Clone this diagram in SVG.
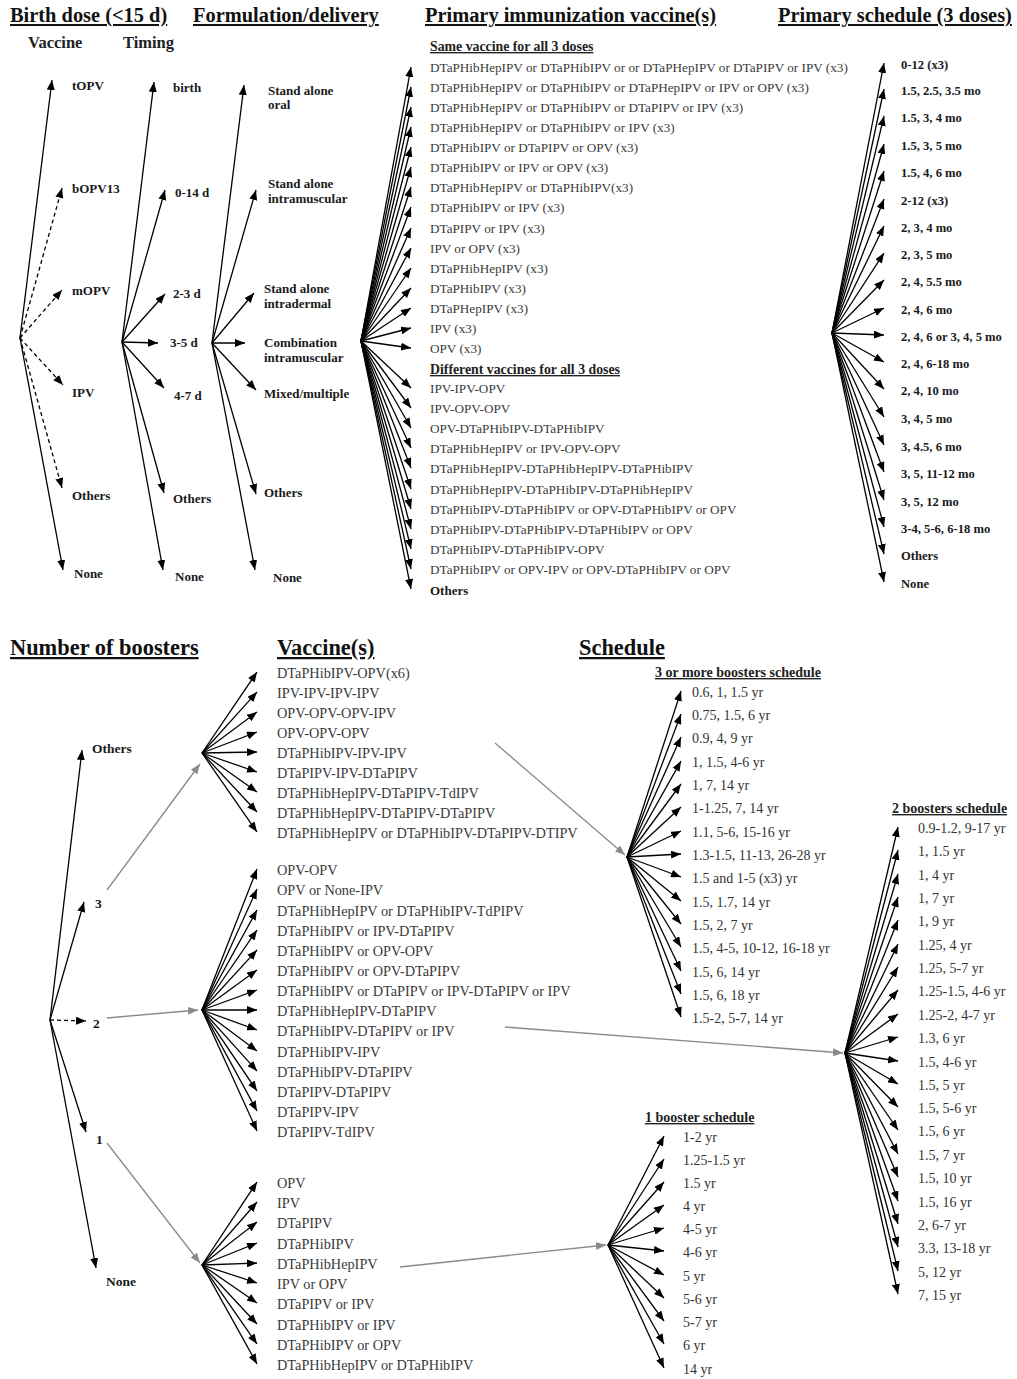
<svg xmlns="http://www.w3.org/2000/svg" width="1017" height="1379" viewBox="0 0 1017 1379">
<defs>
<marker id="ah" viewBox="0 0 10 8" refX="10" refY="4" markerWidth="10" markerHeight="8" markerUnits="userSpaceOnUse" orient="auto"><path d="M0,0 L10,4 L0,8 z" fill="#000"/></marker>
<marker id="ag" viewBox="0 0 10 8" refX="10" refY="4" markerWidth="10" markerHeight="8" markerUnits="userSpaceOnUse" orient="auto"><path d="M0,0 L10,4 L0,8 z" fill="#8a8a8a"/></marker>
<style>
text{font-family:"Liberation Serif","Times New Roman",serif}
.h{font-weight:bold;font-size:20.4px;text-decoration:underline;fill:#111}
.h2{font-weight:bold;font-size:22.4px;text-decoration:underline;fill:#111}
.sh{font-weight:bold;font-size:16.5px;fill:#222}
.lb{font-weight:bold;font-size:13px;fill:#1a1a1a}
.lp{font-weight:bold;font-size:12.6px;fill:#1a1a1a}
.lbb{font-weight:bold;font-size:13.5px;fill:#1a1a1a}
.sub{font-weight:bold;font-size:13.8px;text-decoration:underline;fill:#222}
.sub2{font-weight:bold;font-size:14px;text-decoration:underline;fill:#222}
.t{font-size:13.2px;fill:#3a3a3a}
.tb{font-size:14.3px;fill:#3a3a3a}
.s{font-size:14px;fill:#333}
.c{stroke:#000;stroke-width:1.3;fill:none;marker-end:url(#ah)}
.d{stroke-dasharray:4 3}
.g{stroke:#8a8a8a;stroke-width:1.3;fill:none;marker-end:url(#ag)}
</style>
</defs>
<rect width="1017" height="1379" fill="#fff"/>

<g id="headers">
<text class="h" x="10" y="22">Birth dose (&lt;15 d)</text>
<text class="h" x="193" y="22">Formulation/delivery</text>
<text class="h" x="425" y="22">Primary immunization vaccine(s)</text>
<text class="h" x="778" y="22">Primary schedule (3 doses)</text>
<text class="sh" x="28" y="48">Vaccine</text>
<text class="sh" x="123" y="48">Timing</text>
<text class="h2" x="10" y="655">Number of boosters</text>
<text class="h2" x="277" y="655">Vaccine(s)</text>
<text class="h2" x="579" y="655">Schedule</text>
</g>

<g id="connectors">
<!-- birth dose vaccine -->
<path class="c" d="M20,338 L52,80"/>
<path class="c d" d="M20,338 L62,188"/>
<path class="c d" d="M20,338 L62,290"/>
<path class="c d" d="M20,338 L63,385"/>
<path class="c d" d="M20,338 L62,488"/>
<path class="c" d="M20,338 L63,570"/>
<!-- timing -->
<path class="c" d="M122,342 L154,82"/>
<path class="c" d="M122,342 L165,190"/>
<path class="c" d="M122,342 L165,294"/>
<path class="c" d="M122,342 L158,343"/>
<path class="c" d="M122,342 L164,388"/>
<path class="c" d="M122,342 L164,493"/>
<path class="c" d="M122,342 L163,570"/>
<!-- formulation -->
<path class="c" d="M212,343 L244,85"/>
<path class="c" d="M212,343 L256,190"/>
<path class="c" d="M212,343 L254,293"/>
<path class="c" d="M212,343 L245,343"/>
<path class="c" d="M212,343 L256,390"/>
<path class="c" d="M212,343 L256,494"/>
<path class="c" d="M212,343 L255,570"/>
<!-- primary vaccines -->
<path class="c" d="M361,341 L411,67"/>
<path class="c" d="M361,341 L411,87"/>
<path class="c" d="M361,341 L411,107"/>
<path class="c" d="M361,341 L411,127"/>
<path class="c" d="M361,341 L411,147"/>
<path class="c" d="M361,341 L411,167"/>
<path class="c" d="M361,341 L411,187"/>
<path class="c" d="M361,341 L411,207"/>
<path class="c" d="M361,341 L411,228"/>
<path class="c" d="M361,341 L411,248"/>
<path class="c" d="M361,341 L411,268"/>
<path class="c" d="M361,341 L411,288"/>
<path class="c" d="M361,341 L411,308"/>
<path class="c" d="M361,341 L411,328"/>
<path class="c" d="M361,341 L411,348"/>
<path class="c" d="M361,341 L411,388"/>
<path class="c" d="M361,341 L411,408"/>
<path class="c" d="M361,341 L411,428"/>
<path class="c" d="M361,341 L411,448"/>
<path class="c" d="M361,341 L411,468"/>
<path class="c" d="M361,341 L411,489"/>
<path class="c" d="M361,341 L411,509"/>
<path class="c" d="M361,341 L411,529"/>
<path class="c" d="M361,341 L411,549"/>
<path class="c" d="M361,341 L411,569"/>
<path class="c" d="M361,341 L411,589"/>
<!-- primary schedule -->
<path class="c" d="M832,333 L884,63"/>
<path class="c" d="M832,333 L884,89"/>
<path class="c" d="M832,333 L884,116"/>
<path class="c" d="M832,333 L884,144"/>
<path class="c" d="M832,333 L884,171"/>
<path class="c" d="M832,333 L884,199"/>
<path class="c" d="M832,333 L884,226"/>
<path class="c" d="M832,333 L884,253"/>
<path class="c" d="M832,333 L884,280"/>
<path class="c" d="M832,333 L884,308"/>
<path class="c" d="M832,333 L884,335"/>
<path class="c" d="M832,333 L884,362"/>
<path class="c" d="M832,333 L884,389"/>
<path class="c" d="M832,333 L884,417"/>
<path class="c" d="M832,333 L884,445"/>
<path class="c" d="M832,333 L884,472"/>
<path class="c" d="M832,333 L884,500"/>
<path class="c" d="M832,333 L884,527"/>
<path class="c" d="M832,333 L884,554"/>
<path class="c" d="M832,333 L884,582"/>
<!-- number of boosters -->
<path class="c" d="M50,1020 L82,750"/>
<path class="c" d="M50,1020 L84,902"/>
<path class="c d" d="M50,1020 L86,1021"/>
<path class="c" d="M50,1020 L86,1132"/>
<path class="c" d="M50,1020 L96,1268"/>
<!-- grey links -->
<path class="g" d="M107,890 L200,764"/>
<path class="g" d="M107,1018 L198,1010"/>
<path class="g" d="M107,1143 L200,1263"/>
<path class="g" d="M495,743 L625,855"/>
<path class="g" d="M505,1027 L843,1053"/>
<path class="g" d="M400,1267 L606,1245"/>
<!-- fan 3 boosters vaccines -->
<path class="c" d="M202,753 L257,672"/>
<path class="c" d="M202,753 L257,692"/>
<path class="c" d="M202,753 L257,712"/>
<path class="c" d="M202,753 L257,732"/>
<path class="c" d="M202,753 L257,752"/>
<path class="c" d="M202,753 L257,772"/>
<path class="c" d="M202,753 L257,792"/>
<path class="c" d="M202,753 L257,812"/>
<path class="c" d="M202,753 L257,832"/>
<!-- fan 2 boosters vaccines -->
<path class="c" d="M202,1010 L257,869"/>
<path class="c" d="M202,1010 L257,889"/>
<path class="c" d="M202,1010 L257,910"/>
<path class="c" d="M202,1010 L257,930"/>
<path class="c" d="M202,1010 L257,950"/>
<path class="c" d="M202,1010 L257,970"/>
<path class="c" d="M202,1010 L257,990"/>
<path class="c" d="M202,1010 L257,1010"/>
<path class="c" d="M202,1010 L257,1030"/>
<path class="c" d="M202,1010 L257,1051"/>
<path class="c" d="M202,1010 L257,1071"/>
<path class="c" d="M202,1010 L257,1091"/>
<path class="c" d="M202,1010 L257,1111"/>
<path class="c" d="M202,1010 L257,1131"/>
<!-- fan 1 booster vaccines -->
<path class="c" d="M202,1265 L257,1182"/>
<path class="c" d="M202,1265 L257,1202"/>
<path class="c" d="M202,1265 L257,1222"/>
<path class="c" d="M202,1265 L257,1243"/>
<path class="c" d="M202,1265 L257,1263"/>
<path class="c" d="M202,1265 L257,1283"/>
<path class="c" d="M202,1265 L257,1303"/>
<path class="c" d="M202,1265 L257,1324"/>
<path class="c" d="M202,1265 L257,1344"/>
<path class="c" d="M202,1265 L257,1364"/>
<!-- 3+ schedule -->
<path class="c" d="M627,857 L681,691"/>
<path class="c" d="M627,857 L681,714"/>
<path class="c" d="M627,857 L681,737"/>
<path class="c" d="M627,857 L681,761"/>
<path class="c" d="M627,857 L681,784"/>
<path class="c" d="M627,857 L681,807"/>
<path class="c" d="M627,857 L681,831"/>
<path class="c" d="M627,857 L681,854"/>
<path class="c" d="M627,857 L681,877"/>
<path class="c" d="M627,857 L681,901"/>
<path class="c" d="M627,857 L681,924"/>
<path class="c" d="M627,857 L681,947"/>
<path class="c" d="M627,857 L681,971"/>
<path class="c" d="M627,857 L681,994"/>
<path class="c" d="M627,857 L681,1017"/>
<!-- 2 boosters schedule -->
<path class="c" d="M845,1053 L898,827"/>
<path class="c" d="M845,1053 L898,850"/>
<path class="c" d="M845,1053 L898,874"/>
<path class="c" d="M845,1053 L898,897"/>
<path class="c" d="M845,1053 L898,920"/>
<path class="c" d="M845,1053 L898,944"/>
<path class="c" d="M845,1053 L898,967"/>
<path class="c" d="M845,1053 L898,990"/>
<path class="c" d="M845,1053 L898,1014"/>
<path class="c" d="M845,1053 L898,1037"/>
<path class="c" d="M845,1053 L898,1061"/>
<path class="c" d="M845,1053 L898,1084"/>
<path class="c" d="M845,1053 L898,1107"/>
<path class="c" d="M845,1053 L898,1130"/>
<path class="c" d="M845,1053 L898,1154"/>
<path class="c" d="M845,1053 L898,1177"/>
<path class="c" d="M845,1053 L898,1201"/>
<path class="c" d="M845,1053 L898,1224"/>
<path class="c" d="M845,1053 L898,1247"/>
<path class="c" d="M845,1053 L898,1271"/>
<path class="c" d="M845,1053 L898,1294"/>
<!-- 1 booster schedule -->
<path class="c" d="M608,1245 L664,1136"/>
<path class="c" d="M608,1245 L664,1159"/>
<path class="c" d="M608,1245 L664,1182"/>
<path class="c" d="M608,1245 L664,1205"/>
<path class="c" d="M608,1245 L664,1228"/>
<path class="c" d="M608,1245 L664,1251"/>
<path class="c" d="M608,1245 L664,1275"/>
<path class="c" d="M608,1245 L664,1298"/>
<path class="c" d="M608,1245 L664,1321"/>
<path class="c" d="M608,1245 L664,1344"/>
<path class="c" d="M608,1245 L664,1368"/>
</g>

<!-- Birth dose vaccine nodes -->
<g id="bd-topv"><text class="lb" x="72" y="90">tOPV</text></g>
<g id="bd-bopv13"><text class="lb" x="72" y="193">bOPV13</text></g>
<g id="bd-mopv"><text class="lb" x="72" y="295">mOPV</text></g>
<g id="bd-ipv"><text class="lb" x="72" y="397">IPV</text></g>
<g id="bd-others"><text class="lb" x="72" y="500">Others</text></g>
<g id="bd-none"><text class="lb" x="74" y="578">None</text></g>
<!-- Timing nodes -->
<g id="tm-birth"><text class="lb" x="173" y="92">birth</text></g>
<g id="tm-0-14"><text class="lb" x="175" y="197">0-14 d</text></g>
<g id="tm-2-3"><text class="lb" x="173" y="298">2-3 d</text></g>
<g id="tm-3-5"><text class="lb" x="170" y="347">3-5 d</text></g>
<g id="tm-4-7"><text class="lb" x="174" y="400">4-7 d</text></g>
<g id="tm-others"><text class="lb" x="173" y="503">Others</text></g>
<g id="tm-none"><text class="lb" x="175" y="581">None</text></g>
<!-- Formulation nodes -->
<g id="fd-oral"><text class="lb" x="268" y="95">Stand alone</text><text class="lb" x="268" y="109">oral</text></g>
<g id="fd-im"><text class="lb" x="268" y="188">Stand alone</text><text class="lb" x="268" y="203">intramuscular</text></g>
<g id="fd-id"><text class="lb" x="264" y="293">Stand alone</text><text class="lb" x="264" y="308">intradermal</text></g>
<g id="fd-comb"><text class="lb" x="264" y="347">Combination</text><text class="lb" x="264" y="362">intramuscular</text></g>
<g id="fd-mixed"><text class="lb" x="264" y="398">Mixed/multiple</text></g>
<g id="fd-others"><text class="lb" x="264" y="497">Others</text></g>
<g id="fd-none"><text class="lb" x="273" y="582">None</text></g>

<!-- Primary vaccine nodes -->
<g id="pv-sub1"><text class="sub" x="430" y="51">Same vaccine for all 3 doses</text></g>
<g id="pv-01"><text class="t" x="430" y="72">DTaPHibHepIPV or DTaPHibIPV or or DTaPHepIPV or DTaPIPV or IPV (x3)</text></g>
<g id="pv-02"><text class="t" x="430" y="92">DTaPHibHepIPV or DTaPHibIPV or DTaPHepIPV or IPV or OPV (x3)</text></g>
<g id="pv-03"><text class="t" x="430" y="112">DTaPHibHepIPV or DTaPHibIPV or DTaPIPV or IPV (x3)</text></g>
<g id="pv-04"><text class="t" x="430" y="132">DTaPHibHepIPV or DTaPHibIPV or IPV (x3)</text></g>
<g id="pv-05"><text class="t" x="430" y="152">DTaPHibIPV or DTaPIPV or OPV (x3)</text></g>
<g id="pv-06"><text class="t" x="430" y="172">DTaPHibIPV or IPV or OPV (x3)</text></g>
<g id="pv-07"><text class="t" x="430" y="192">DTaPHibHepIPV or DTaPHibIPV(x3)</text></g>
<g id="pv-08"><text class="t" x="430" y="212">DTaPHibIPV or IPV (x3)</text></g>
<g id="pv-09"><text class="t" x="430" y="233">DTaPIPV or IPV (x3)</text></g>
<g id="pv-10"><text class="t" x="430" y="253">IPV or OPV (x3)</text></g>
<g id="pv-11"><text class="t" x="430" y="273">DTaPHibHepIPV (x3)</text></g>
<g id="pv-12"><text class="t" x="430" y="293">DTaPHibIPV (x3)</text></g>
<g id="pv-13"><text class="t" x="430" y="313">DTaPHepIPV (x3)</text></g>
<g id="pv-14"><text class="t" x="430" y="333">IPV (x3)</text></g>
<g id="pv-15"><text class="t" x="430" y="353">OPV (x3)</text></g>
<g id="pv-sub2"><text class="sub" x="430" y="374">Different vaccines for all 3 doses</text></g>
<g id="pv-16"><text class="t" x="430" y="393">IPV-IPV-OPV</text></g>
<g id="pv-17"><text class="t" x="430" y="413">IPV-OPV-OPV</text></g>
<g id="pv-18"><text class="t" x="430" y="433">OPV-DTaPHibIPV-DTaPHibIPV</text></g>
<g id="pv-19"><text class="t" x="430" y="453">DTaPHibHepIPV or IPV-OPV-OPV</text></g>
<g id="pv-20"><text class="t" x="430" y="473">DTaPHibHepIPV-DTaPHibHepIPV-DTaPHibIPV</text></g>
<g id="pv-21"><text class="t" x="430" y="494">DTaPHibHepIPV-DTaPHibIPV-DTaPHibHepIPV</text></g>
<g id="pv-22"><text class="t" x="430" y="514">DTaPHibIPV-DTaPHibIPV or OPV-DTaPHibIPV or OPV</text></g>
<g id="pv-23"><text class="t" x="430" y="534">DTaPHibIPV-DTaPHibIPV-DTaPHibIPV or OPV</text></g>
<g id="pv-24"><text class="t" x="430" y="554">DTaPHibIPV-DTaPHibIPV-OPV</text></g>
<g id="pv-25"><text class="t" x="430" y="574">DTaPHibIPV or OPV-IPV or OPV-DTaPHibIPV or OPV</text></g>
<g id="pv-others"><text class="lb" x="430" y="595">Others</text></g>

<!-- Primary schedule nodes -->
<g id="ps-01"><text class="lp" x="901" y="69">0-12 (x3)</text></g>
<g id="ps-02"><text class="lp" x="901" y="95">1.5,  2.5,  3.5 mo</text></g>
<g id="ps-03"><text class="lp" x="901" y="122">1.5,  3,  4 mo</text></g>
<g id="ps-04"><text class="lp" x="901" y="150">1.5,  3,  5 mo</text></g>
<g id="ps-05"><text class="lp" x="901" y="177">1.5,  4,  6 mo</text></g>
<g id="ps-06"><text class="lp" x="901" y="205">2-12 (x3)</text></g>
<g id="ps-07"><text class="lp" x="901" y="232">2,  3,  4 mo</text></g>
<g id="ps-08"><text class="lp" x="901" y="259">2,  3,  5 mo</text></g>
<g id="ps-09"><text class="lp" x="901" y="286">2, 4, 5.5 mo</text></g>
<g id="ps-10"><text class="lp" x="901" y="314">2,  4,  6 mo</text></g>
<g id="ps-11"><text class="lp" x="901" y="341">2, 4, 6 or 3, 4, 5 mo</text></g>
<g id="ps-12"><text class="lp" x="901" y="368">2,  4,  6-18 mo</text></g>
<g id="ps-13"><text class="lp" x="901" y="395">2,  4,  10 mo</text></g>
<g id="ps-14"><text class="lp" x="901" y="423">3,  4,  5 mo</text></g>
<g id="ps-15"><text class="lp" x="901" y="451">3,  4.5,  6 mo</text></g>
<g id="ps-16"><text class="lp" x="901" y="478">3,  5,  11-12 mo</text></g>
<g id="ps-17"><text class="lp" x="901" y="506">3,  5,  12 mo</text></g>
<g id="ps-18"><text class="lp" x="901" y="533">3-4,  5-6,  6-18 mo</text></g>
<g id="ps-others"><text class="lp" x="901" y="560">Others</text></g>
<g id="ps-none"><text class="lp" x="901" y="588">None</text></g>

<!-- Number of boosters nodes -->
<g id="nb-others"><text class="lbb" x="92" y="753">Others</text></g>
<g id="nb-3"><text class="lbb" x="95" y="908">3</text></g>
<g id="nb-2"><text class="lbb" x="93" y="1028">2</text></g>
<g id="nb-1"><text class="lbb" x="96" y="1144">1</text></g>
<g id="nb-none"><text class="lbb" x="106" y="1286">None</text></g>

<!-- 3 booster vaccines -->
<g id="v3-1"><text class="tb" x="277" y="678">DTaPHibIPV-OPV(x6)</text></g>
<g id="v3-2"><text class="tb" x="277" y="698">IPV-IPV-IPV-IPV</text></g>
<g id="v3-3"><text class="tb" x="277" y="718">OPV-OPV-OPV-IPV</text></g>
<g id="v3-4"><text class="tb" x="277" y="738">OPV-OPV-OPV</text></g>
<g id="v3-5"><text class="tb" x="277" y="758">DTaPHibIPV-IPV-IPV</text></g>
<g id="v3-6"><text class="tb" x="277" y="778">DTaPIPV-IPV-DTaPIPV</text></g>
<g id="v3-7"><text class="tb" x="277" y="798">DTaPHibHepIPV-DTaPIPV-TdIPV</text></g>
<g id="v3-8"><text class="tb" x="277" y="818">DTaPHibHepIPV-DTaPIPV-DTaPIPV</text></g>
<g id="v3-9"><text class="tb" x="277" y="838">DTaPHibHepIPV or DTaPHibIPV-DTaPIPV-DTIPV</text></g>
<!-- 2 booster vaccines -->
<g id="v2-01"><text class="tb" x="277" y="875">OPV-OPV</text></g>
<g id="v2-02"><text class="tb" x="277" y="895">OPV or None-IPV</text></g>
<g id="v2-03"><text class="tb" x="277" y="916">DTaPHibHepIPV or DTaPHibIPV-TdPIPV</text></g>
<g id="v2-04"><text class="tb" x="277" y="936">DTaPHibIPV or IPV-DTaPIPV</text></g>
<g id="v2-05"><text class="tb" x="277" y="956">DTaPHibIPV or OPV-OPV</text></g>
<g id="v2-06"><text class="tb" x="277" y="976">DTaPHibIPV or OPV-DTaPIPV</text></g>
<g id="v2-07"><text class="tb" x="277" y="996">DTaPHibIPV or DTaPIPV or IPV-DTaPIPV or IPV</text></g>
<g id="v2-08"><text class="tb" x="277" y="1016">DTaPHibHepIPV-DTaPIPV</text></g>
<g id="v2-09"><text class="tb" x="277" y="1036">DTaPHibIPV-DTaPIPV or IPV</text></g>
<g id="v2-10"><text class="tb" x="277" y="1057">DTaPHibIPV-IPV</text></g>
<g id="v2-11"><text class="tb" x="277" y="1077">DTaPHibIPV-DTaPIPV</text></g>
<g id="v2-12"><text class="tb" x="277" y="1097">DTaPIPV-DTaPIPV</text></g>
<g id="v2-13"><text class="tb" x="277" y="1117">DTaPIPV-IPV</text></g>
<g id="v2-14"><text class="tb" x="277" y="1137">DTaPIPV-TdIPV</text></g>
<!-- 1 booster vaccines -->
<g id="v1-01"><text class="tb" x="277" y="1188">OPV</text></g>
<g id="v1-02"><text class="tb" x="277" y="1208">IPV</text></g>
<g id="v1-03"><text class="tb" x="277" y="1228">DTaPIPV</text></g>
<g id="v1-04"><text class="tb" x="277" y="1249">DTaPHibIPV</text></g>
<g id="v1-05"><text class="tb" x="277" y="1269">DTaPHibHepIPV</text></g>
<g id="v1-06"><text class="tb" x="277" y="1289">IPV or OPV</text></g>
<g id="v1-07"><text class="tb" x="277" y="1309">DTaPIPV or IPV</text></g>
<g id="v1-08"><text class="tb" x="277" y="1330">DTaPHibIPV or IPV</text></g>
<g id="v1-09"><text class="tb" x="277" y="1350">DTaPHibIPV or OPV</text></g>
<g id="v1-10"><text class="tb" x="277" y="1370">DTaPHibHepIPV or DTaPHibIPV</text></g>

<!-- 3 or more boosters schedule -->
<g id="s3-h"><text class="sub2" x="655" y="677">3 or more boosters schedule</text></g>
<g id="s3-01"><text class="s" x="692" y="697">0.6, 1, 1.5 yr</text></g>
<g id="s3-02"><text class="s" x="692" y="720">0.75, 1.5, 6 yr</text></g>
<g id="s3-03"><text class="s" x="692" y="743">0.9, 4, 9 yr</text></g>
<g id="s3-04"><text class="s" x="692" y="767">1, 1.5, 4-6 yr</text></g>
<g id="s3-05"><text class="s" x="692" y="790">1, 7, 14 yr</text></g>
<g id="s3-06"><text class="s" x="692" y="813">1-1.25, 7, 14 yr</text></g>
<g id="s3-07"><text class="s" x="692" y="837">1.1, 5-6, 15-16 yr</text></g>
<g id="s3-08"><text class="s" x="692" y="860">1.3-1.5, 11-13, 26-28 yr</text></g>
<g id="s3-09"><text class="s" x="692" y="883">1.5 and 1-5 (x3) yr</text></g>
<g id="s3-10"><text class="s" x="692" y="907">1.5, 1.7, 14 yr</text></g>
<g id="s3-11"><text class="s" x="692" y="930">1.5, 2, 7 yr</text></g>
<g id="s3-12"><text class="s" x="692" y="953">1.5, 4-5, 10-12, 16-18 yr</text></g>
<g id="s3-13"><text class="s" x="692" y="977">1.5, 6, 14 yr</text></g>
<g id="s3-14"><text class="s" x="692" y="1000">1.5, 6, 18 yr</text></g>
<g id="s3-15"><text class="s" x="692" y="1023">1.5-2, 5-7, 14 yr</text></g>

<!-- 2 boosters schedule -->
<g id="s2-h"><text class="sub2" x="892" y="813">2 boosters schedule</text></g>
<g id="s2-01"><text class="s" x="918" y="833">0.9-1.2,  9-17 yr</text></g>
<g id="s2-02"><text class="s" x="918" y="856">1,  1.5 yr</text></g>
<g id="s2-03"><text class="s" x="918" y="880">1, 4 yr</text></g>
<g id="s2-04"><text class="s" x="918" y="903">1,  7 yr</text></g>
<g id="s2-05"><text class="s" x="918" y="926">1,  9 yr</text></g>
<g id="s2-06"><text class="s" x="918" y="950">1.25,  4 yr</text></g>
<g id="s2-07"><text class="s" x="918" y="973">1.25,  5-7 yr</text></g>
<g id="s2-08"><text class="s" x="918" y="996">1.25-1.5,  4-6 yr</text></g>
<g id="s2-09"><text class="s" x="918" y="1020">1.25-2,  4-7 yr</text></g>
<g id="s2-10"><text class="s" x="918" y="1043">1.3,  6 yr</text></g>
<g id="s2-11"><text class="s" x="918" y="1067">1.5,  4-6 yr</text></g>
<g id="s2-12"><text class="s" x="918" y="1090">1.5,  5 yr</text></g>
<g id="s2-13"><text class="s" x="918" y="1113">1.5,  5-6 yr</text></g>
<g id="s2-14"><text class="s" x="918" y="1136">1.5,  6 yr</text></g>
<g id="s2-15"><text class="s" x="918" y="1160">1.5,  7 yr</text></g>
<g id="s2-16"><text class="s" x="918" y="1183">1.5,  10 yr</text></g>
<g id="s2-17"><text class="s" x="918" y="1207">1.5, 16 yr</text></g>
<g id="s2-18"><text class="s" x="918" y="1230">2,  6-7 yr</text></g>
<g id="s2-19"><text class="s" x="918" y="1253">3.3,  13-18 yr</text></g>
<g id="s2-20"><text class="s" x="918" y="1277">5,  12 yr</text></g>
<g id="s2-21"><text class="s" x="918" y="1300">7,  15 yr</text></g>

<!-- 1 booster schedule -->
<g id="s1-h"><text class="sub2" x="645" y="1122">1 booster schedule</text></g>
<g id="s1-01"><text class="s" x="683" y="1142">1-2 yr</text></g>
<g id="s1-02"><text class="s" x="683" y="1165">1.25-1.5 yr</text></g>
<g id="s1-03"><text class="s" x="683" y="1188">1.5 yr</text></g>
<g id="s1-04"><text class="s" x="683" y="1211">4 yr</text></g>
<g id="s1-05"><text class="s" x="683" y="1234">4-5 yr</text></g>
<g id="s1-06"><text class="s" x="683" y="1257">4-6 yr</text></g>
<g id="s1-07"><text class="s" x="683" y="1281">5 yr</text></g>
<g id="s1-08"><text class="s" x="683" y="1304">5-6 yr</text></g>
<g id="s1-09"><text class="s" x="683" y="1327">5-7 yr</text></g>
<g id="s1-10"><text class="s" x="683" y="1350">6 yr</text></g>
<g id="s1-11"><text class="s" x="683" y="1374">14 yr</text></g>
</svg>
